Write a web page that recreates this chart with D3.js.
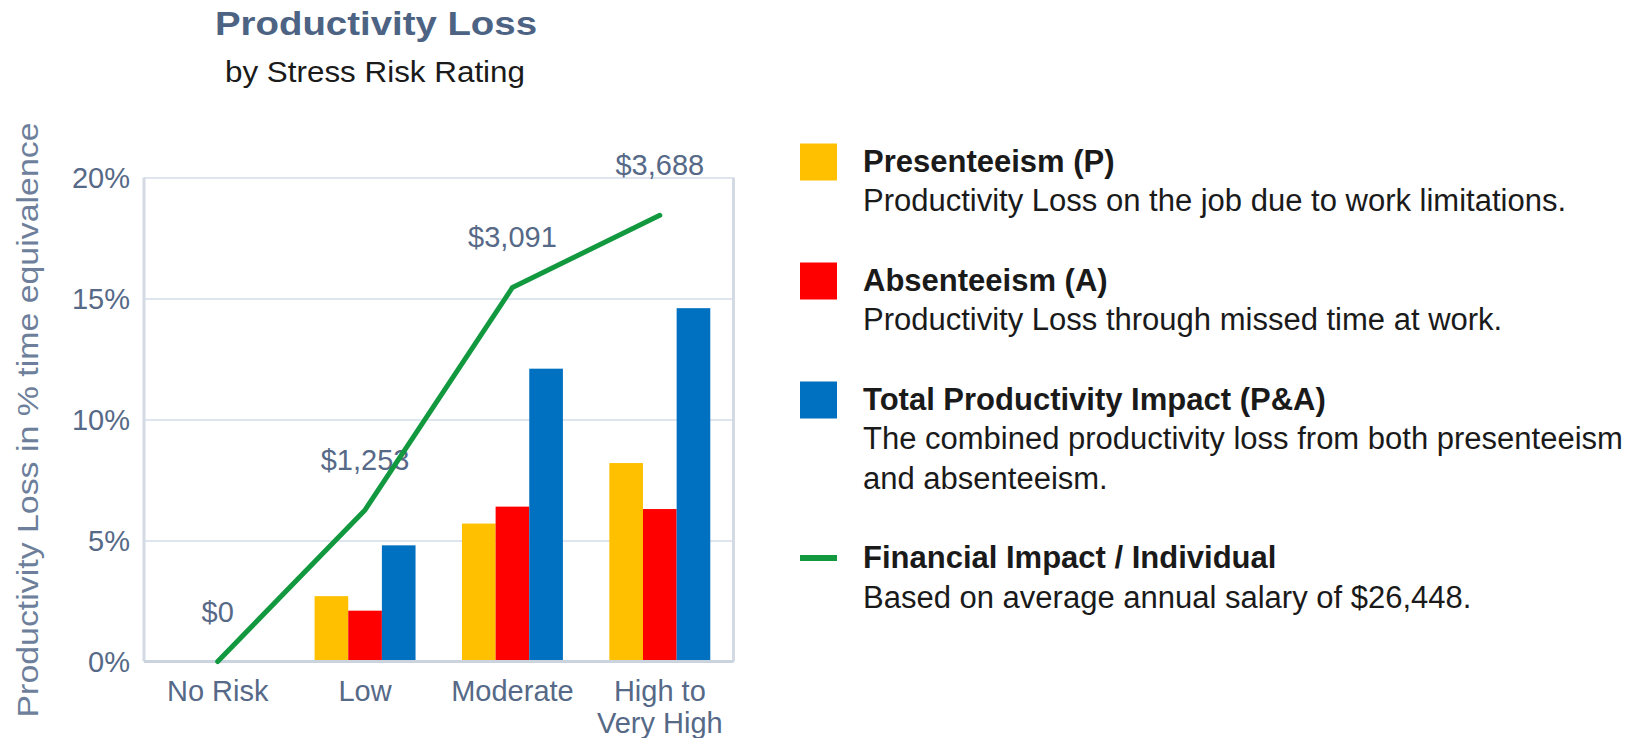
<!DOCTYPE html>
<html>
<head>
<meta charset="utf-8">
<script src="https://cdn.jsdelivr.net/npm/d3@7"></script>
<style>
  body { margin: 0; background: #fff; }
  svg { display: block; font-family: "Liberation Sans", Arial, sans-serif; }
  .tick-label { fill: #566987; font-size: 29px; }
</style>
</head>
<body>
<svg id="chart" width="1636" height="738"></svg>
<script>
/* =========================
   DATA
========================= */
const categories = ["No Risk", "Low", "Moderate", "High to Very High"];
const seriesKeys = ["presenteeism", "absenteeism", "total"];
const presenteeism = [0, 2.7, 5.7, 8.2];
const absenteeism = [0, 2.1, 6.4, 6.3];
const totalImpact = [0, 4.8, 12.1, 14.6];
const financialImpact = [0, 1253, 3091, 3688];
const yTicks = [0, 5, 10, 15, 20];

const legendItems = [
  { type: "rect", color: "#FFC000", title: "Presenteeism (P)",
    lines: ["Productivity Loss on the job due to work limitations."] },
  { type: "rect", color: "#FF0000", title: "Absenteeism (A)",
    lines: ["Productivity Loss through missed time at work."] },
  { type: "rect", color: "#0070C0", title: "Total Productivity Impact (P&A)",
    lines: ["The combined productivity loss from both presenteeism", "and absenteeism."] },
  { type: "line", color: "#12993f", title: "Financial Impact / Individual",
    lines: ["Based on average annual salary of $26,448."] }
];

const barColors = { presenteeism: "#FFC000", absenteeism: "#FF0000", total: "#0070C0" };
const lineColor = "#12993f";

/* =========================
   SETUP
========================= */
const svg = d3.select("#chart");
const plot = { left: 144, right: 733.5, top: 177.5, bottom: 661.5 };

const rows = categories.map((c, i) => ({
  category: c,
  presenteeism: presenteeism[i],
  absenteeism: absenteeism[i],
  total: totalImpact[i],
  money: financialImpact[i]
}));

const x = d3.scaleBand().domain(categories).range([plot.left, plot.right]).padding(0);
const xSub = d3.scaleBand().domain(seriesKeys).range([0, x.bandwidth()])
  .paddingInner(0).paddingOuter(0.69);
const y = d3.scaleLinear().domain([0, 20]).range([plot.bottom, plot.top]);
const y2 = d3.scaleLinear().domain([0, 4000]).range([plot.bottom, plot.top]);

/* ===== TITLES ===== */
svg.append("text")
  .attr("x", 376).attr("y", 35)
  .attr("text-anchor", "middle")
  .attr("font-size", 33).attr("font-weight", "bold")
  .attr("fill", "#4d6384")
  .attr("textLength", 322).attr("lengthAdjust", "spacingAndGlyphs")
  .text("Productivity Loss");

svg.append("text")
  .attr("x", 375).attr("y", 82)
  .attr("text-anchor", "middle")
  .attr("font-size", 30)
  .attr("fill", "#1a1a1a")
  .attr("textLength", 300).attr("lengthAdjust", "spacingAndGlyphs")
  .text("by Stress Risk Rating");

svg.append("text")
  .attr("transform", "translate(38,420) rotate(-90)")
  .attr("text-anchor", "middle")
  .attr("font-size", 30)
  .attr("fill", "#6d7f9b")
  .attr("textLength", 595).attr("lengthAdjust", "spacingAndGlyphs")
  .text("Productivity Loss in % time equivalence");

/* ===== GRID + AXES ===== */
const grid = svg.append("g")
  .attr("transform", `translate(${plot.left},0)`)
  .call(d3.axisLeft(y).tickValues(yTicks).tickSize(-(plot.right - plot.left)).tickFormat(""));
grid.select(".domain").remove();
grid.selectAll("line").attr("stroke", "#dfe5ee").attr("stroke-width", 2);

const yAxis = svg.append("g")
  .attr("transform", `translate(130,0)`)
  .call(d3.axisLeft(y).tickValues(yTicks).tickSize(0).tickPadding(0).tickFormat((d) => d + "%"));
yAxis.select(".domain").remove();
yAxis.selectAll("text").attr("class", "tick-label").attr("dy", "0.35em");

// frame sides
svg.append("line")
  .attr("x1", plot.left).attr("x2", plot.left)
  .attr("y1", plot.top).attr("y2", plot.bottom)
  .attr("stroke", "#d3dae4").attr("stroke-width", 3);
svg.append("line")
  .attr("x1", plot.right).attr("x2", plot.right)
  .attr("y1", plot.top).attr("y2", plot.bottom)
  .attr("stroke", "#d3dae4").attr("stroke-width", 3);

/* ===== BARS ===== */
const groups = svg.append("g")
  .selectAll("g")
  .data(rows)
  .join("g")
  .attr("transform", (d) => `translate(${x(d.category)},0)`);

groups.selectAll("rect")
  .data((d) => seriesKeys.map((k) => ({ key: k, value: d[k] })))
  .join("rect")
  .attr("x", (d) => xSub(d.key))
  .attr("width", xSub.bandwidth())
  .attr("y", (d) => y(d.value))
  .attr("height", (d) => y(0) - y(d.value))
  .attr("fill", (d) => barColors[d.key]);

// bottom axis line on top of bars
svg.append("line")
  .attr("x1", plot.left).attr("x2", plot.right)
  .attr("y1", plot.bottom).attr("y2", plot.bottom)
  .attr("stroke", "#cbd3de").attr("stroke-width", 3);

/* ===== X AXIS ===== */
const xAxis = svg.append("g")
  .attr("transform", `translate(0,${plot.bottom})`)
  .call(d3.axisBottom(x).tickSize(0).tickPadding(0));
xAxis.select(".domain").remove();
xAxis.selectAll("text")
  .attr("class", "tick-label")
  .attr("y", 39)
  .attr("dy", 0)
  .call(wrapText, 140);

/* ===== LINE LABELS + LINE ===== */
const cx = (d) => x(d.category) + x.bandwidth() / 2;

svg.append("g")
  .selectAll("text")
  .data(rows)
  .join("text")
  .attr("class", "tick-label")
  .attr("text-anchor", "middle")
  .attr("x", cx)
  .attr("y", (d) => y2(d.money) - 40)
  .text((d) => d3.format("$,")(d.money));

const line = d3.line().x(cx).y((d) => y2(d.money));
svg.append("path")
  .datum(rows)
  .attr("d", line)
  .attr("fill", "none")
  .attr("stroke", lineColor)
  .attr("stroke-width", 5)
  .attr("stroke-linejoin", "round")
  .attr("stroke-linecap", "round");

/* ===== LEGEND ===== */
const legendX = 800;
const textX = 863;
const lineH = 39.5;
let baseY = 171.5;

legendItems.forEach((item) => {
  const g = svg.append("g");
  if (item.type === "rect") {
    g.append("rect")
      .attr("x", legendX).attr("y", baseY - 28)
      .attr("width", 37).attr("height", 37)
      .attr("fill", item.color);
  } else {
    g.append("line")
      .attr("x1", legendX).attr("x2", legendX + 37)
      .attr("y1", baseY - 10).attr("y2", baseY - 10)
      .attr("stroke", item.color).attr("stroke-width", 6);
  }
  g.append("text")
    .attr("x", textX).attr("y", baseY)
    .attr("font-size", 31).attr("font-weight", "bold")
    .attr("fill", "#1a1a1a")
    .text(item.title);
  item.lines.forEach((ln, j) => {
    g.append("text")
      .attr("x", textX).attr("y", baseY + lineH * (j + 1))
      .attr("font-size", 31)
      .attr("fill", "#1a1a1a")
      .text(ln);
  });
  baseY += lineH * (item.lines.length + 1) + 40;
});

/* =========================
   HELPERS
========================= */
function wrapText(text, width) {
  text.each(function () {
    const t = d3.select(this);
    const words = t.text().split(/\s+/).reverse();
    let word,
      line = [],
      lineNumber = 0;
    const y = t.attr("y") || 0;
    let tspan = t.text(null).append("tspan").attr("x", 0).attr("y", y);
    while ((word = words.pop())) {
      line.push(word);
      tspan.text(line.join(" "));
      if (tspan.node().getComputedTextLength() > width) {
        line.pop();
        tspan.text(line.join(" "));
        line = [word];
        tspan = t.append("tspan")
          .attr("x", 0)
          .attr("y", y)
          .attr("dy", ++lineNumber * 32 + "px")
          .text(word);
      }
    }
  });
}
</script>
</body>
</html>
